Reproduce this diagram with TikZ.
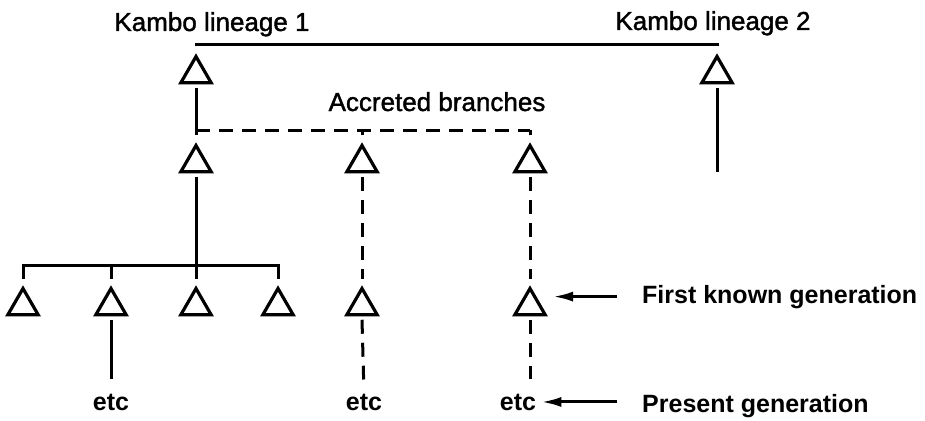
\documentclass[tikz,border=0pt]{standalone}
\usepackage{fontspec}
\setmainfont{Liberation Sans}
\newfontfamily\mediumsans{Liberation Sans}[FakeBold=1.5]
\usetikzlibrary{shapes.geometric,arrows.meta}
\begin{document}
\begin{tikzpicture}[x=1pt,y=-1pt,
  person/.style={regular polygon, regular polygon sides=3, minimum size=35pt,
    inner sep=0pt, outer sep=5pt, draw, line width=3.2pt},
  line/.style={line width=3pt},
  dline/.style={line width=3pt, dash pattern=on 14pt off 9pt},
  pointer/.style={line width=3pt, -{Latex[length=20pt,width=10pt]}},
  lineage/.style={font=\mediumsans\fontsize{26}{30}\selectfont, inner sep=0pt, anchor=base},
  gen/.style={font=\bfseries\fontsize{25}{30}\selectfont, inner sep=0pt, anchor=base west},
  etcnode/.style={font=\bfseries\fontsize{25}{30}\selectfont, inner sep=0pt, anchor=base},
]
\useasboundingbox (0,0) rectangle (925,420);

% lineage founders
\node[person] (L1) at (196,74) {};
\node[person] (L2) at (717,74) {};
% second generation: own branch and accreted branches
\node[person] (A) at (196,163) {};
\node[person] (B) at (362,163) {};
\node[person] (C) at (530,163) {};
% first known generation
\node[person] (D1) at (23,306) {};
\node[person] (D2) at (111,306) {};
\node[person] (D3) at (196,306) {};
\node[person] (D4) at (278,306) {};
\node[person] (E) at (362,306) {};
\node[person] (F) at (530,306) {};

% labels
\node[lineage] (k1) at (212,31) {Kambo lineage 1};
\node[lineage] (k2) at (713,30) {Kambo lineage 2};
\node[lineage] (acc) at (437,111) {Accreted branches};
\node[gen] (fk) at (642,303) {First known generation};
\node[gen] (pg) at (642,412) {Present generation};
\node[etcnode] (e1) at (111,410) {etc};
\node[etcnode] (e2) at (364,410) {etc};
\node[etcnode] (e3) at (518,410) {etc};

% bar heights
\coordinate (topbar) at (0,45);
\coordinate (accbar) at (0,130);
\coordinate (sibbar) at (0,265);
\coordinate (L2end) at (717,172);

% lineage links
\draw[line] (L1.north) |- (L2.north |- topbar) -- (L2.north);
\draw[line] (L2.south) -- (L2end);
\draw[line] (L1.south) -- (A.north);

% accreted branches
\draw[dline] (A.north |- accbar) -- (C.north |- accbar);
\draw[line] (B.north) -- (B.north |- accbar);
\draw[line] (C.north) -- (C.north |- accbar);
\draw[dline] (B.south) -- (E.north);
\draw[dline] (C.south) -- (F.north);

% siblings
\draw[line] (A.south) -- (D3.north);
\draw[line] (D1.north) |- (D4.north |- sibbar) -- (D4.north);
\draw[line] (D2.north) -- (D2.north |- sibbar);

% descent to the present
\draw[line, shorten >=14pt] (D2.south) -- (e1.north);
\draw[dline, shorten >=14pt] (E.south) -- (e2.north);
\draw[dline, shorten >=14pt] (F.south) -- (F.south |- e3.north);

% generation pointers
\draw[pointer] ([xshift=-25pt]fk.west) -- ([xshift=23pt]F.center |- fk.west);
\draw[pointer] ([xshift=-25pt]pg.west |- e3.east) -- ([xshift=5pt]e3.east);
\end{tikzpicture}
\end{document}
